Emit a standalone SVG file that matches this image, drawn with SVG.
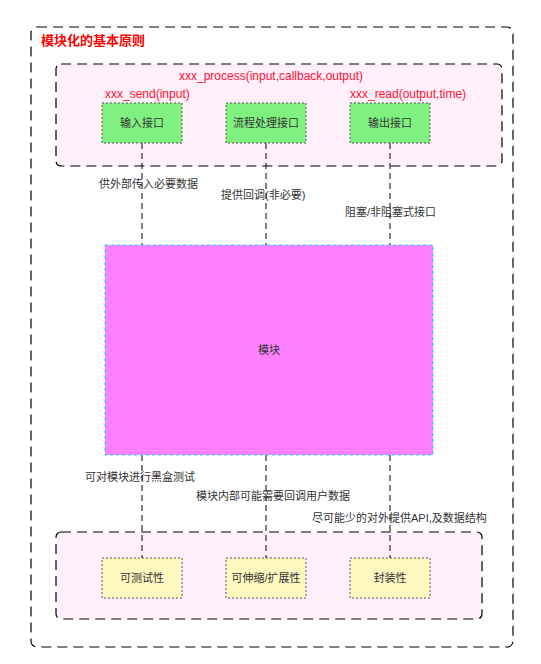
<svg xmlns="http://www.w3.org/2000/svg" width="541" height="664" viewBox="0 0 541 664">
<style>
text{font-family:"Liberation Sans","Noto Sans CJK SC",sans-serif;font-size:11px;fill:#333}
.red{fill:#ff1030;font-size:12px}
.title{font-weight:bold;font-size:13px;fill:#ff0000}
.frame{fill:none;stroke:#000;stroke-width:1.2;stroke-dasharray:10 6}
.cont{fill:#fff0fc;stroke:#000;stroke-width:1.2;stroke-dasharray:10 6}
.green{fill:#80f080;stroke:#555;stroke-width:1;stroke-dasharray:2 2}
.yellow{fill:#fff8c0;stroke:#555;stroke-width:1;stroke-dasharray:2 2}
.edge{stroke:#000;stroke-width:1;stroke-dasharray:6 4;fill:none}
</style>
<g id="frame">
<rect class="frame" x="31" y="27" width="482" height="620" rx="6"/>
<text class="title" x="41" y="45">模块化的基本原则</text>
</g>
<g id="top-container">
<rect class="cont" x="56" y="64" width="446" height="102" rx="5"/>
<text class="red" x="271" y="80" text-anchor="middle">xxx_process(input,callback,output)</text>
<text class="red" x="105" y="98">xxx_send(input)</text>
<text class="red" x="350" y="98">xxx_read(output,time)</text>
</g>
<g id="bottom-container">
<rect class="cont" x="56" y="532" width="426" height="87" rx="5"/>
</g>
<g id="connectors">
<line class="edge" x1="142" y1="143" x2="142" y2="245"/>
<line class="edge" x1="266" y1="143" x2="266" y2="245"/>
<line class="edge" x1="390" y1="143" x2="390" y2="245"/>
<line class="edge" x1="142" y1="455" x2="142" y2="558"/>
<line class="edge" x1="266" y1="455" x2="266" y2="558"/>
<line class="edge" x1="390" y1="455" x2="390" y2="558"/>
<text x="99" y="188">供外部传入必要数据</text>
<text x="221" y="199">提供回调(非必要)</text>
<text x="345" y="216">阻塞/非阻塞式接口</text>
<text x="85" y="481">可对模块进行黑盒测试</text>
<text x="196" y="500">模块内部可能需要回调用户数据</text>
<text x="312" y="522">尽可能少的对外提供API,及数据结构</text>
</g>
<g id="input">
<rect class="green" x="102" y="103" width="80" height="40"/>
<text x="142" y="127" text-anchor="middle">输入接口</text>
</g>
<g id="process">
<rect class="green" x="226" y="103" width="80" height="40"/>
<text x="266" y="127" text-anchor="middle">流程处理接口</text>
</g>
<g id="output">
<rect class="green" x="350" y="103" width="80" height="40"/>
<text x="390" y="127" text-anchor="middle">输出接口</text>
</g>
<g id="module">
<rect x="105" y="245" width="328" height="210" fill="#ff80ff" stroke="#00e0ff" stroke-width="1" stroke-dasharray="3 3"/>
<text x="269" y="354" text-anchor="middle">模块</text>
</g>
<g id="testable">
<rect class="yellow" x="102" y="558" width="80" height="40"/>
<text x="142" y="582" text-anchor="middle">可测试性</text>
</g>
<g id="scalable">
<rect class="yellow" x="226" y="558" width="80" height="40"/>
<text x="266" y="582" text-anchor="middle">可伸缩/扩展性</text>
</g>
<g id="encapsulation">
<rect class="yellow" x="350" y="558" width="80" height="40"/>
<text x="390" y="582" text-anchor="middle">封装性</text>
</g>
</svg>
